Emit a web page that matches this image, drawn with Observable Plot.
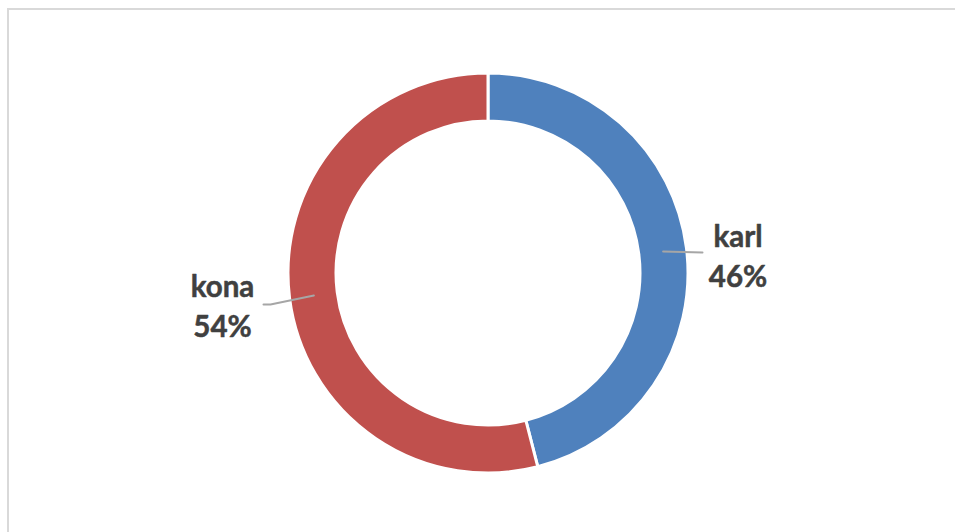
<!DOCTYPE html>
<html>
<head>
<meta charset="utf-8">
<script src="https://cdn.jsdelivr.net/npm/d3@7"></script>
<script src="https://cdn.jsdelivr.net/npm/@observablehq/plot@0.6"></script>
<style>
  html, body { margin: 0; padding: 0; background: #ffffff; }
  #wrap { position: relative; width: 955px; height: 532px; overflow: hidden; }
  #frame { position: absolute; left: 7px; top: 8px; width: 1000px; height: 600px;
           border-top: 2px solid #d9d9d9; border-left: 2px solid #d9d9d9; pointer-events: none; }
</style>
</head>
<body>
<div id="wrap"><div id="frame"></div></div>
<script>
// ---- data ----
const categories = ["karl", "kona"];
const values = [46, 54];
const colors = ["#4f81bd", "#c0504d"];

// ---- layout (code-level constants) ----
const W = 955, H = 532;
const CX = 488, CY = 273, R = 200;     // centre and outer radius, px
const INNER = 0.76;                    // inner radius fraction
const MID = (1 + INNER) / 2;

const total = d3.sum(values);
const pie = d3.pie().sort(null).value(d => d.value).startAngle(0).endAngle(2 * Math.PI);
const slices = pie(categories.map((c, i) => ({name: c, value: values[i], color: colors[i]})));

// label placements relative to unit radius
const labelLayout = {
  karl: {x: 1.2475, y: 0.095, leader: [[1.07, 0.105]]},
  kona: {x: -1.33, y: -0.155, leader: [[-1.09, -0.155], [-1.125, -0.155]]}
};

const labels = slices.map(s => ({
  name: s.data.name,
  text: s.data.name + "\n" + Math.round(s.data.value / total * 100) + "%",
  x: labelLayout[s.data.name].x,
  y: labelLayout[s.data.name].y
}));

const leaders = slices.flatMap(s => {
  const a = (s.startAngle + s.endAngle) / 2;
  const start = [MID * Math.sin(a), MID * Math.cos(a)];
  const pts = [start, ...labelLayout[s.data.name].leader];
  return pts.map(p => ({name: s.data.name, x: p[0], y: p[1]}));
});

function donut(index, scales, values, dimensions, context) {
  const k = scales.x(1) - scales.x(0);
  const g = d3.create("svg:g")
    .attr("transform", `translate(${scales.x(0)},${scales.y(0)})`);
  const arc = d3.arc().innerRadius(INNER * k).outerRadius(k);
  g.selectAll("path").data(slices).join("path")
    .attr("d", arc)
    .attr("fill", d => d.data.color)
    .attr("stroke", "#ffffff")
    .attr("stroke-width", 3)
    .attr("stroke-linejoin", "miter");
  return g.node();
}

const chart = Plot.plot({
  width: W,
  height: H,
  margin: 0,
  style: {background: "transparent", overflow: "visible"},
  x: {domain: [(0 - CX) / R, (W - CX) / R], range: [0, W], axis: null},
  y: {domain: [(CY - H) / R, CY / R], range: [H, 0], axis: null},
  marks: [
    donut,
    Plot.line(leaders, {x: "x", y: "y", z: "name", stroke: "#a6a6a6", strokeWidth: 2, curve: "linear"}),
    Plot.text(labels, {
      x: "x", y: "y", text: "text",
      fontSize: 29.5, fontWeight: "bold", fontFamily: "Lato, 'Noto Sans', sans-serif",
      fill: "#404040", stroke: "#404040", strokeWidth: 0.5,
      lineHeight: 1.33, textAnchor: "middle", lineAnchor: "middle"
    })
  ]
});
chart.style.position = "absolute";
chart.style.left = "0px";
chart.style.top = "0px";
document.getElementById("wrap").prepend(chart);
</script>
</body>
</html>
